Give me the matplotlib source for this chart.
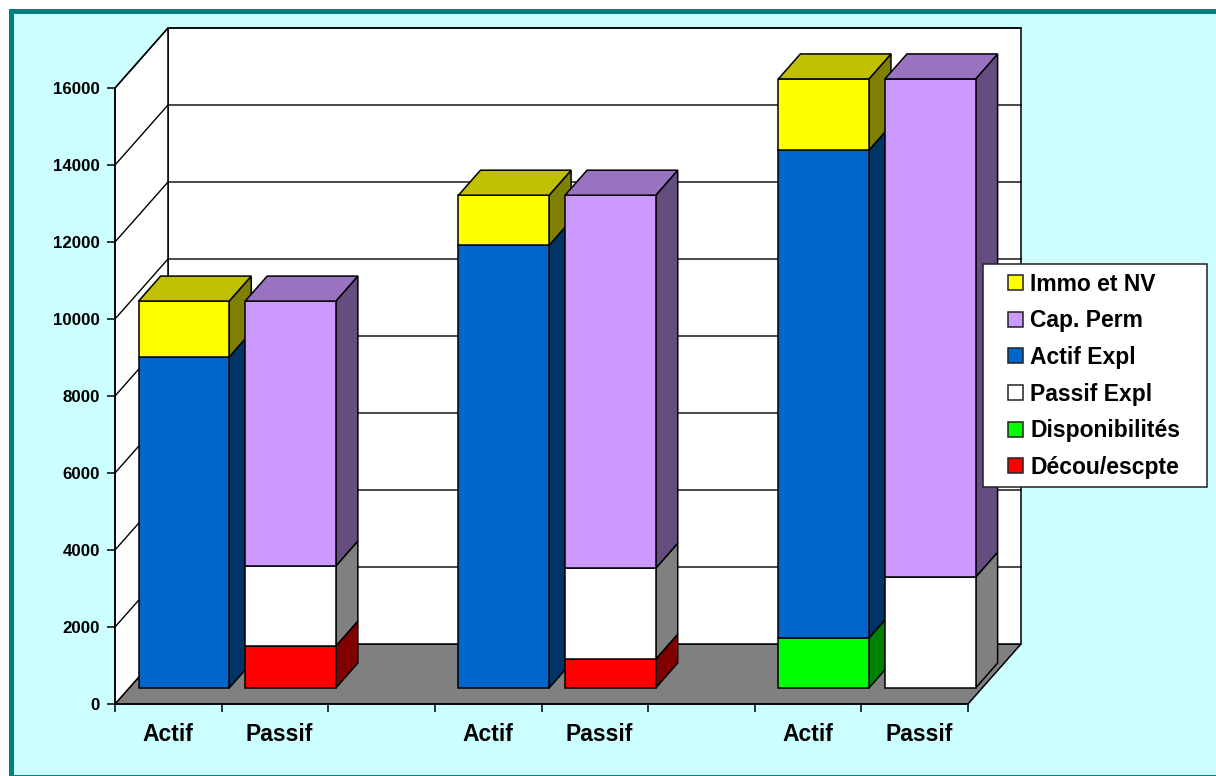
import numpy as np
import matplotlib
matplotlib.use('Agg')
import matplotlib.pyplot as plt
from matplotlib.patches import Polygon, Rectangle, Patch
from matplotlib.legend_handler import HandlerPatch

plt.rcParams['font.family'] = ['Liberation Sans', 'DejaVu Sans']
plt.rcParams['font.weight'] = 'bold'

bar_slots = [0, 1, 3, 4, 6, 7]
bar_labels = ['Actif', 'Passif', 'Actif', 'Passif', 'Actif', 'Passif']

decou = [0, 1090, 0, 750, 0, 0]
dispo = [0, 0, 0, 0, 1300, 0]
passif_expl = [0, 2080, 0, 2360, 0, 2880]
actif_expl = [8600, 0, 11500, 0, 12670, 0]
cap_perm = [0, 6880, 0, 9690, 0, 12940]
immo = [1450, 0, 1300, 0, 1850, 0]

# bottom to top, with front / side / top colours
series = [
    (decou, 'Décou/escpte', '#ff0000', '#800000', '#c00000'),
    (dispo, 'Disponibilités', '#00ff00', '#008000', '#00c000'),
    (passif_expl, 'Passif Expl', '#ffffff', '#808080', '#c0c0c0'),
    (actif_expl, 'Actif Expl', '#0066cc', '#003366', '#004d99'),
    (cap_perm, 'Cap. Perm', '#cc99ff', '#664d80', '#9a73c0'),
    (immo, 'Immo et NV', '#ffff00', '#808000', '#c0c000'),
]

W, H = 1216, 776
PX_X = 853 / 8.0        # pixels per slot
PX_Y = 616 / 16000.0    # pixels per unit

fig = plt.figure(figsize=(W / 100, H / 100), dpi=100, facecolor='white')
fig.add_artist(Rectangle((10.5 / W, -1 / H), 1.1, 1 - 9.5 / H, transform=fig.transFigure,
                         facecolor='#ccffff', edgecolor='#008080', lw=3.6, zorder=-1))

ax = fig.add_axes([115 / W, (H - 704) / H, 853 / W, 616 / H])
ax.set_xlim(0, 8)
ax.set_ylim(0, 16000)
ax.patch.set_visible(False)
for s in ['top', 'right']:
    ax.spines[s].set_visible(False)
for s in ['left', 'bottom']:
    ax.spines[s].set_linewidth(1.1)


def poly(pts, fc, z=1, ec='black', lw=1.1):
    ax.add_patch(Polygon(pts, closed=True, facecolor=fc, edgecolor=ec, lw=lw,
                         clip_on=False, zorder=z, joinstyle='miter'))


# walls and floor
wall_dx = 53 / PX_X
wall_dy = 60 / PX_Y
poly([(0, 0), (wall_dx, wall_dy), (8 + wall_dx, wall_dy), (8, 0)], '#808080')
poly([(wall_dx, wall_dy), (8 + wall_dx, wall_dy), (8 + wall_dx, 16000 + wall_dy),
      (wall_dx, 16000 + wall_dy)], 'white')
poly([(0, 0), (wall_dx, wall_dy), (wall_dx, 16000 + wall_dy), (0, 16000)], 'white')
yticks = np.arange(0, 16001, 2000)
for v in yticks[1:]:
    ax.plot([0, wall_dx, 8 + wall_dx], [v, v + wall_dy, v + wall_dy], color='black',
            lw=1.0, clip_on=False, zorder=1.5)

# bars
bar_w = 0.85
off_x = 0.09 + 14 / PX_X
off_y = 16 / PX_Y
dep_x = 22 / PX_X
dep_y = 25 / PX_Y

for i, slot in enumerate(bar_slots):
    x0 = slot + off_x
    x1 = x0 + bar_w
    bottom = off_y
    last = None
    for vals, name, front, side, top in series:
        v = vals[i]
        if v <= 0:
            continue
        y0, y1 = bottom, bottom + v
        poly([(x1, y0), (x1 + dep_x, y0 + dep_y), (x1 + dep_x, y1 + dep_y), (x1, y1)], side, z=2 + i)
        poly([(x0, y0), (x1, y0), (x1, y1), (x0, y1)], front, z=2 + i)
        bottom = y1
        last = top
    poly([(x0, bottom), (x1, bottom), (x1 + dep_x, bottom + dep_y), (x0 + dep_x, bottom + dep_y)],
         last, z=2 + i)

ax.set_yticks(yticks)
ax.set_yticklabels([str(v) for v in yticks], fontsize=12.2, fontweight='bold')
ax.set_xticks(np.arange(9))
ax.set_xticklabels([])
# Passif labels sit a little right of their slot centre in the reference
label_pos = np.array(bar_slots) + 0.5 + 0.04 * (np.array(bar_labels) == 'Passif')
ax.set_xticks(label_pos, labels=bar_labels, minor=True,
              fontsize=16.5, fontweight='bold')
ax.tick_params(axis='y', length=5.8, width=1.1, pad=5)
ax.tick_params(axis='x', which='major', length=5.8, width=1.1)
ax.tick_params(axis='x', which='minor', length=0, pad=14)


def box(legend, orig_handle, xdescent, ydescent, width, height, fontsize):
    size = 10.8
    return Rectangle((width - size - xdescent, (height - size) / 2 - ydescent), size, size)


handles = [Patch(facecolor=s[2], edgecolor='#222222', lw=1.1, label=s[1]) for s in series[::-1]]
leg = ax.legend(handles=handles, loc='upper left', mode='expand',
                bbox_to_anchor=(982.5 / W, 1 - 487 / H, 224.5 / W, 223 / H),
                bbox_transform=fig.transFigure, borderaxespad=0, borderpad=0.38,
                fontsize=16.5, labelspacing=0.594, handlelength=1.4, handletextpad=0.3,
                fancybox=False, framealpha=1, facecolor='white', edgecolor='#222222',
                handler_map={Patch: HandlerPatch(patch_func=box)})
leg.get_frame().set_linewidth(1.1)
leg.set_zorder(20)

fig.savefig('out.png', dpi=100, facecolor=fig.get_facecolor())
